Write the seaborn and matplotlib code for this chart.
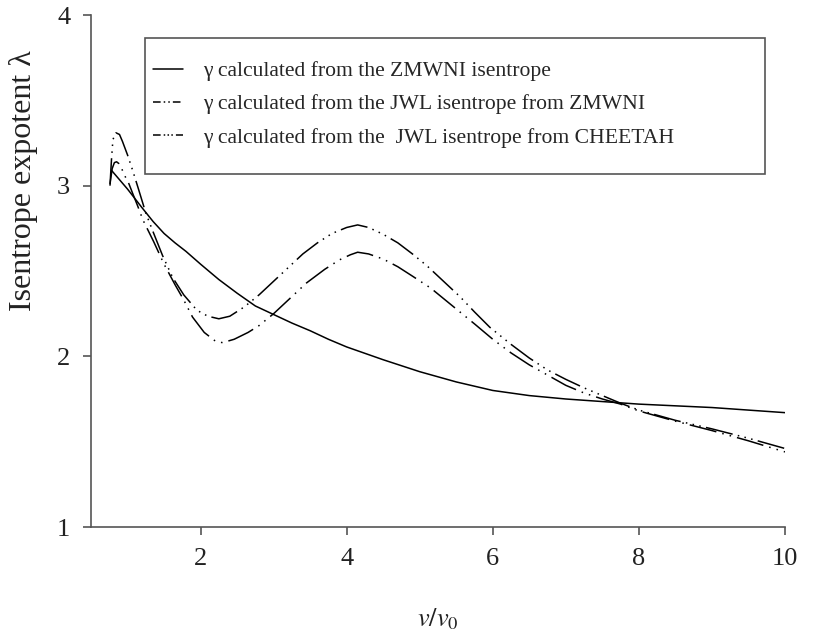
import matplotlib
matplotlib.use("Agg")
import matplotlib.pyplot as plt
from matplotlib.lines import Line2D
from matplotlib.patches import Rectangle
import seaborn as sns

# ---- data ----
zmwni_x = [0.78, 0.90, 1.00, 1.10, 1.20, 1.35, 1.50, 1.65, 1.80, 2.00, 2.25, 2.50, 2.75,
           3.00, 3.25, 3.50, 3.75, 4.00, 4.50, 5.00, 5.50, 6.00, 6.50, 7.00, 7.50, 8.00,
           8.50, 9.00, 9.50, 10.00]
zmwni_y = [3.09, 3.03, 2.98, 2.925, 2.87, 2.79, 2.72, 2.665, 2.615, 2.54, 2.45, 2.37, 2.295,
           2.245, 2.195, 2.15, 2.10, 2.055, 1.98, 1.91, 1.85, 1.80, 1.77, 1.75, 1.735, 1.72,
           1.71, 1.70, 1.685, 1.67]

jwl_zmwni_x = [0.76, 0.79, 0.82, 0.85, 0.88, 0.91, 0.96, 1.02, 1.07, 1.14, 1.21, 1.36, 1.50,
               1.65, 1.77, 1.89, 2.05, 2.20, 2.30, 2.46, 2.65, 2.80, 3.00, 3.20, 3.45, 3.70,
               3.90, 4.05, 4.15, 4.30, 4.50, 4.70, 4.90, 5.15, 5.35, 5.55, 5.75, 6.00, 6.25,
               6.50, 6.75, 7.00, 7.25, 7.50, 7.75, 8.00, 8.50, 9.00, 9.50, 10.00]
jwl_zmwni_y = [3.01, 3.10, 3.135, 3.14, 3.13, 3.11, 3.06, 3.01, 2.955, 2.88, 2.80, 2.67, 2.54,
               2.42, 2.33, 2.23, 2.14, 2.09, 2.08, 2.10, 2.14, 2.18, 2.25, 2.33, 2.43, 2.51,
               2.565, 2.595, 2.61, 2.60, 2.57, 2.525, 2.47, 2.40, 2.33, 2.26, 2.19, 2.10, 2.02,
               1.95, 1.89, 1.83, 1.785, 1.75, 1.72, 1.68, 1.62, 1.565, 1.505, 1.44]

jwl_cheetah_x = [0.76, 0.78, 0.80, 0.84, 0.89, 0.93, 1.00, 1.07, 1.15, 1.25, 1.34, 1.48, 1.62,
                 1.77, 1.95, 2.10, 2.25, 2.40, 2.60, 2.80, 3.00, 3.20, 3.40, 3.60, 3.80, 4.00,
                 4.15, 4.30, 4.50, 4.70, 4.90, 5.10, 5.30, 5.55, 5.75, 5.96, 6.25, 6.50, 6.75,
                 7.00, 7.25, 7.50, 7.75, 8.00, 8.50, 9.00, 9.50, 10.00]
jwl_cheetah_y = [3.00, 3.15, 3.27, 3.31, 3.30, 3.26, 3.18, 3.09, 2.98, 2.84, 2.74, 2.59, 2.46,
                 2.36, 2.27, 2.235, 2.22, 2.235, 2.29, 2.36, 2.44, 2.52, 2.60, 2.665, 2.72, 2.755,
                 2.77, 2.755, 2.715, 2.665, 2.60, 2.53, 2.45, 2.35, 2.26, 2.17, 2.07, 1.99, 1.92,
                 1.865, 1.815, 1.77, 1.725, 1.685, 1.625, 1.575, 1.52, 1.46]

labels = ["\u03b3 calculated from the ZMWNI isentrope",
          "\u03b3 calculated from the JWL isentrope from ZMWNI",
          "\u03b3 calculated from the  JWL isentrope from CHEETAH"]
x_ticks = [2, 4, 6, 8, 10]
y_ticks = [1, 2, 3, 4]

# ---- style ----
sns.set_style("ticks")
plt.rcParams["font.family"] = ["Liberation Serif", "DejaVu Serif"]
plt.rcParams["mathtext.fontset"] = "stix"

fig = plt.figure(figsize=(8.15, 6.36), dpi=100)
ax = fig.add_axes([91 / 815, 1 - 527 / 636, (785 - 91) / 815, (527 - 15) / 636])

dash_zmwni = (18, 4, 1, 4, 1, 4)
dash_cheetah = (18, 3.5, 1, 3.5, 1, 3.5, 1, 3.5)

sns.lineplot(x=zmwni_x, y=zmwni_y, ax=ax, color="black", lw=1.1, sort=False)
sns.lineplot(x=jwl_zmwni_x, y=jwl_zmwni_y, ax=ax, color="black", lw=1.1, sort=False)
ax.lines[-1].set_dashes(dash_zmwni)
sns.lineplot(x=jwl_cheetah_x, y=jwl_cheetah_y, ax=ax, color="black", lw=1.1, sort=False)
ax.lines[-1].set_dashes(dash_cheetah)

ax.set_xlim(0.5, 10)
ax.set_ylim(1, 4)
ax.set_xticks(x_ticks)
ax.set_yticks(y_ticks)
ax.set_xticklabels([str(t) for t in x_ticks])
ax.set_yticklabels([str(t) for t in y_ticks])
sns.despine(ax=ax)
for s in ["left", "bottom"]:
    ax.spines[s].set_color("#555555")
    ax.spines[s].set_linewidth(1.2)
ax.tick_params(axis="both", direction="out", length=6, width=1.2, color="#555555",
               labelsize=19, labelcolor="#222222", pad=9)

ax.set_xlabel("$v/v_0$", fontsize=19, color="#222222")
ax.xaxis.set_label_coords(0.5, -0.155)
ax.set_ylabel("Isentrope expotent \u03bb", fontsize=23, color="#222222")
ax.yaxis.set_label_coords(-0.076, 0.676)

# legend
h1 = Line2D([], [], color="black", lw=1.1)
h2 = Line2D([], [], color="black", lw=1.1, dashes=(5, 2, 1, 2, 1, 2))
h3 = Line2D([], [], color="black", lw=1.1, dashes=(5, 2, 1, 1.5, 1, 1.5, 1, 2))
leg = ax.legend([h1, h2, h3], labels, loc="upper left",
                bbox_to_anchor=(153 / 815, 1 - 61 / 636), bbox_transform=fig.transFigure,
                frameon=False, fontsize=15.6, handlelength=1.4, handletextpad=0.9,
                labelspacing=0.6, borderpad=0, borderaxespad=0)
fig.patches.append(Rectangle((145 / 815, 1 - 174 / 636), (765 - 145) / 815, (174 - 38) / 636,
                             transform=fig.transFigure, fill=False, edgecolor="#555555", lw=1.2))

fig.savefig("out.png", dpi=100)
